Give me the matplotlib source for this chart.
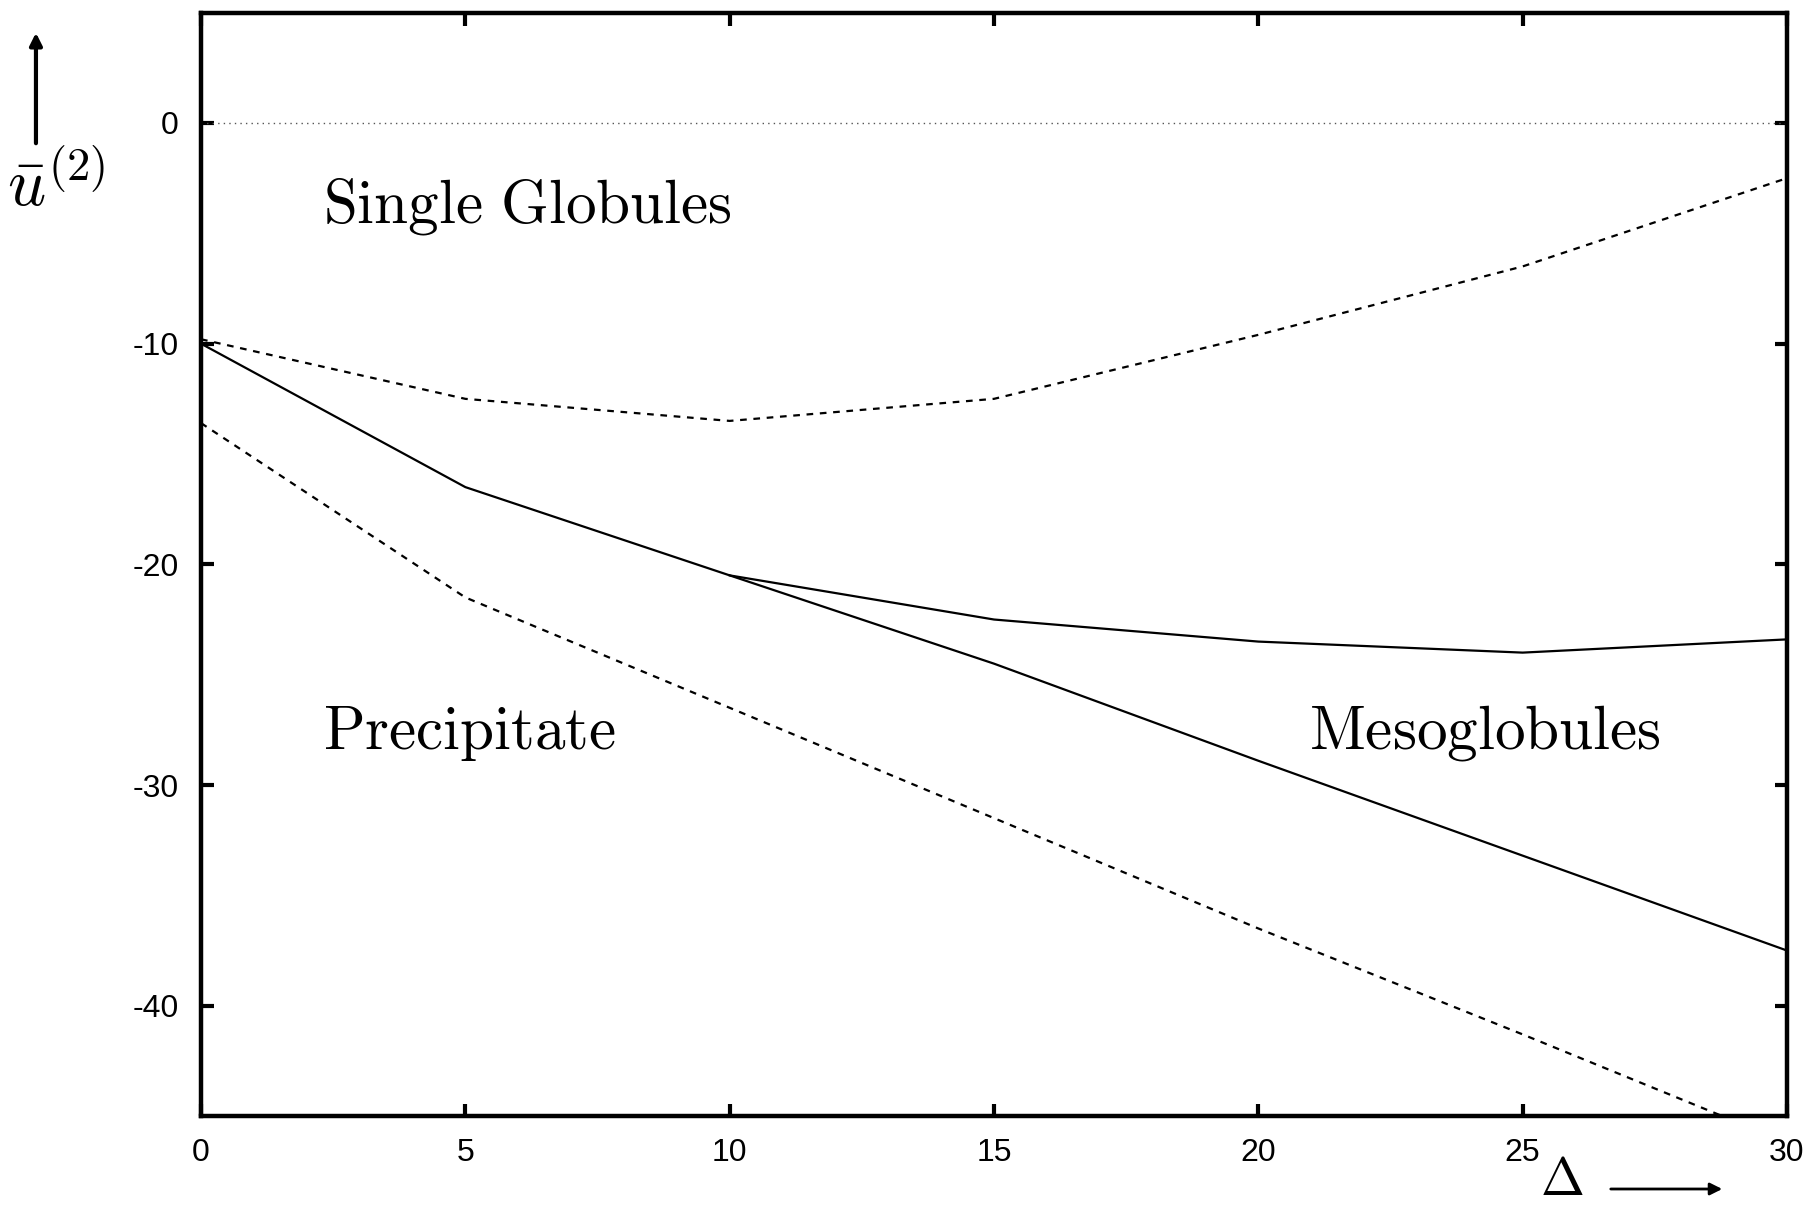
import matplotlib
matplotlib.use("Agg")
import matplotlib.pyplot as plt

plt.rcParams['mathtext.fontset'] = 'cm'
plt.rcParams['font.family'] = ['Liberation Sans', 'DejaVu Sans']
plt.rcParams['axes.unicode_minus'] = False

# phase boundaries
delta = [0, 5, 10, 15, 20, 25, 30]
upper_dotted = [-9.8, -12.5, -13.5, -12.5, -9.6, -6.5, -2.5]
upper_solid = [-10.0, -16.5, -20.5, -22.5, -23.5, -24.0, -23.4]
lower_solid_x = [10, 15, 20, 25, 30]
lower_solid = [-20.5, -24.5, -28.9, -33.2, -37.5]
lower_dotted = [-13.6, -21.5, -26.5, -31.5, -36.5, -41.3, -46.2]

xticks = [0, 5, 10, 15, 20, 25, 30]
yticks = [0, -10, -20, -30, -40]

fig = plt.figure(figsize=(18.16, 12.06), dpi=100)
ax = fig.add_axes([0.1107, 0.0746, 0.8733, 0.9149])

ax.axhline(0, color='#555555', lw=1.0, ls=(0, (1, 3)))
ax.plot(delta, upper_dotted, color='black', lw=1.6, ls=(0, (3, 3)))
ax.plot(delta, upper_solid, color='black', lw=1.6)
ax.plot(lower_solid_x, lower_solid, color='black', lw=1.6)
ax.plot(delta, lower_dotted, color='black', lw=1.6, ls=(0, (3, 3)))

ax.set_xlim(0, 30)
ax.set_ylim(-45, 5)
ax.set_xticks(xticks)
ax.set_yticks(yticks)
ax.tick_params(direction='in', length=9, width=3, labelsize=23,
               top=True, right=True, pad=16)
for s in ax.spines.values():
    s.set_linewidth(3.2)

txt = dict(fontsize=44, color='black')
ax.text(2.31, -4.5, r'$\mathrm{Single\ Globules}$', **txt)
ax.text(2.31, -28.35, r'$\mathrm{Precipitate}$', **txt)
ax.text(20.96, -28.35, r'$\mathrm{Mesoglobules}$', **txt)

# axis labels with arrows, gnuplot style
fig.text(0.031, 0.845, r'$\bar{u}^{(2)}$', fontsize=48, ha='center', va='center')
fig.add_artist(matplotlib.patches.FancyArrowPatch(
    (0.0198, 1 - 146 / 1206), (0.0198, 1 - 30 / 1206),
    transform=fig.transFigure, arrowstyle='-|>', mutation_scale=18,
    lw=3, color='black'))
fig.text(0.860, 0.009, r'$\Delta$', fontsize=38, ha='center', va='baseline')
fig.add_artist(matplotlib.patches.FancyArrowPatch(
    (1608 / 1816, 1 - 1189 / 1206), (1725 / 1816, 1 - 1189 / 1206),
    transform=fig.transFigure, arrowstyle='-|>', mutation_scale=18,
    lw=2, color='black'))

fig.savefig('out.png', dpi=100)
